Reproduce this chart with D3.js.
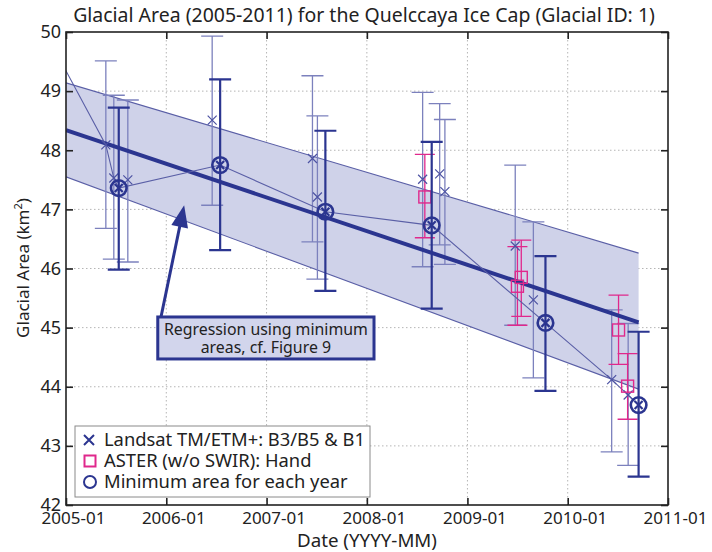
<!DOCTYPE html>
<html><head><meta charset="utf-8">
<script src="https://cdn.jsdelivr.net/npm/d3@7"></script>
<style>
body{margin:0;background:#fff}
svg{display:block}
text{font-family:"Noto Sans","Open Sans",sans-serif;fill:#222}
</style>
</head><body>
<svg id="c" width="712" height="552"></svg>
<script>
// ---------------- data ----------------
const yTicks = [42, 43, 44, 45, 46, 47, 48, 49, 50];
const xTickLabels = ["2005-01", "2006-01", "2007-01", "2008-01", "2009-01", "2010-01", "2011-01"];

// Landsat TM/ETM+ (B3/B5 & B1) scenes that are not the yearly minimum
const landsatDates  = ["2005-05-26","2005-06-24","2005-08-14","2006-06-17","2007-06-17","2007-07-05","2008-07-22","2008-09-22","2008-10-11","2009-06-24","2009-08-29","2010-06-10","2010-08-09"];
const landsatValues = [48.09, 47.53, 47.50, 48.51, 47.86, 47.21, 47.51, 47.60, 47.30, 46.38, 45.47, 44.12, 43.86];
const landsatLow    = [46.68, 46.16, 46.11, 47.07, 46.45, 45.82, 46.03, 46.40, 46.07, 45.04, 44.15, 42.90, 42.67];
const landsatHigh   = [49.51, 48.93, 48.85, 49.93, 49.26, 48.58, 48.98, 48.79, 48.52, 47.75, 46.79, 45.30, 45.07];

// ASTER (w/o SWIR) hand digitised
const asterDates  = ["2008-07-30","2009-07-02","2009-07-16","2010-07-05","2010-08-07"];
const asterValues = [47.21, 45.70, 45.85, 44.96, 44.01];
const asterLow    = [46.52, 45.04, 45.19, 44.38, 43.45];
const asterHigh   = [47.93, 46.37, 46.48, 45.55, 44.56];

// Minimum area for each year (Landsat)
const minDates  = ["2005-07-12","2006-07-16","2007-08-03","2008-08-24","2009-10-12","2010-09-16"];
const minValues = [47.36, 47.75, 46.96, 46.73, 45.08, 43.69];
const minLow    = [45.98, 46.31, 45.62, 45.32, 43.93, 42.48];
const minHigh   = [48.72, 49.20, 48.33, 48.14, 46.21, 44.93];

// thin connecting track
const trackDates  = ["2004-09-12","2005-05-26","2005-06-24","2005-07-12","2006-07-16","2007-08-03","2008-08-24","2009-10-12","2010-06-10","2010-08-09","2010-09-16"];
const trackValues = [50.30, 48.09, 47.53, 47.36, 47.75, 46.96, 46.73, 45.08, 44.12, 43.86, 43.69];

// regression using minimum areas and its band
const regDates   = ["2005-01-01","2010-09-16"];
const regValues  = [48.34, 45.09];
const bandUpper  = [49.14, 46.26];
const bandLower  = [47.55, 43.96];

// annotation anchor (data space)
const noteTip = {date: "2006-03-07", value: 47.07};
const noteBox = {d0: "2005-12-01", d1: "2008-01-27", v0: 45.18, v1: 44.47};
const noteLines = ["Regression using minimum", "areas, cf. Figure 9"];

const legendItems = ["Landsat TM/ETM+: B3/B5 & B1", "ASTER (w/o SWIR): Hand", "Minimum area for each year"];
const titleText = "Glacial Area (2005-2011) for the Quelccaya Ice Cap (Glacial ID: 1)";

// ---------------- drawing ----------------
const parse = d3.utcParse("%Y-%m-%d");
const NAVY = "#2b3590", MID = "#4d53a3", LIGHT = "#7c81bd", MAG = "#e0288c", BAND = "#cfd2e9";
const L = 66, R = 668, T = 32, B = 505;

const x = d3.scaleUtc().domain([parse("2005-01-01"), parse("2011-01-01")]).range([L, R]);
const y = d3.scaleLinear().domain([42, 50]).range([B, T]);

const svg = d3.select("#c");
svg.append("defs").append("clipPath").attr("id","clip")
  .append("rect").attr("x",L).attr("y",T).attr("width",R-L).attr("height",B-T);

function fit(sel, target){
  const w = sel.node().getComputedTextLength();
  const fs = parseFloat(sel.attr("font-size"));
  sel.attr("font-size", (fs*target/w).toFixed(2));
}

const xTickDates = xTickLabels.map(s => parse(s + "-01"));

// grid
const grid = svg.append("g");
grid.selectAll(".gx").data(xTickDates.slice(1,-1)).join("line")
  .attr("x1", d=>x(d)).attr("x2", d=>x(d)).attr("y1",T).attr("y2",B)
  .attr("stroke","#b5b5b5").attr("stroke-dasharray","1.5,2.5");
grid.selectAll(".gy").data(yTicks.slice(1,-1)).join("line")
  .attr("x1",L).attr("x2",R).attr("y1",d=>y(d)).attr("y2",d=>y(d))
  .attr("stroke","#b5b5b5").attr("stroke-dasharray","1.5,2.5");

const plot = svg.append("g").attr("clip-path","url(#clip)");

// band
const bandArea = d3.area().x(d=>x(d.date)).y0(d=>y(d.lo)).y1(d=>y(d.hi));
const bandData = regDates.map((d,i)=>({date:parse(d), lo:bandLower[i], hi:bandUpper[i]}));
plot.append("path").datum(bandData).attr("d", bandArea).attr("fill", BAND);
const ln = d3.line().x(d=>x(d.date)).y(d=>y(d.v));
plot.append("path").datum(bandData.map(d=>({date:d.date,v:d.hi}))).attr("d",ln)
  .attr("fill","none").attr("stroke","#5a5fa6").attr("stroke-width",1.1);
plot.append("path").datum(bandData.map(d=>({date:d.date,v:d.lo}))).attr("d",ln)
  .attr("fill","none").attr("stroke","#5a5fa6").attr("stroke-width",1.1);

// error bars helper
function errorBars(g, dates, lows, highs, color, width, cap){
  const data = dates.map((d,i)=>({x:x(parse(d)), lo:y(lows[i]), hi:y(highs[i])}));
  const e = g.append("g").attr("stroke",color).attr("stroke-width",width).attr("fill","none");
  e.selectAll("path").data(data).join("path")
    .attr("d", d=>`M${d.x},${d.lo}V${d.hi}M${d.x-cap/2},${d.hi}H${d.x+cap/2}M${d.x-cap/2},${d.lo}H${d.x+cap/2}`);
}
function xMarks(g, dates, values, color, size, width){
  const s = size/2;
  g.append("g").attr("stroke",color).attr("stroke-width",width).attr("fill","none")
    .selectAll("path").data(dates.map((d,i)=>({x:x(parse(d)), y:y(values[i])}))).join("path")
    .attr("d", d=>`M${d.x-s},${d.y-s}L${d.x+s},${d.y+s}M${d.x-s},${d.y+s}L${d.x+s},${d.y-s}`);
}

errorBars(plot, landsatDates, landsatLow, landsatHigh, LIGHT, 1.3, 22);
errorBars(plot, asterDates, asterLow, asterHigh, MAG, 1.3, 20);

// regression line
plot.append("path").datum(regDates.map((d,i)=>({date:parse(d), v:regValues[i]}))).attr("d",ln)
  .attr("fill","none").attr("stroke",NAVY).attr("stroke-width",4);

// thin track
plot.append("path").datum(trackDates.map((d,i)=>({date:parse(d), v:trackValues[i]}))).attr("d",ln)
  .attr("fill","none").attr("stroke","#5a5fa6").attr("stroke-width",1.1);

xMarks(plot, landsatDates, landsatValues, MID, 9, 1.2);

// ASTER squares
plot.append("g").selectAll("rect").data(asterDates.map((d,i)=>({x:x(parse(d)), y:y(asterValues[i])}))).join("rect")
  .attr("x",d=>d.x-6).attr("y",d=>d.y-6).attr("width",12).attr("height",12)
  .attr("fill","none").attr("stroke",MAG).attr("stroke-width",1.4);

// minimum
errorBars(plot, minDates, minLow, minHigh, NAVY, 2.2, 22);
plot.append("g").selectAll("circle").data(minDates.map((d,i)=>({x:x(parse(d)), y:y(minValues[i])}))).join("circle")
  .attr("cx",d=>d.x).attr("cy",d=>d.y).attr("r",7.8)
  .attr("fill","none").attr("stroke",NAVY).attr("stroke-width",2.6);
xMarks(plot, minDates, minValues, NAVY, 8, 2.2);

// frame + axes (ticks inward)
svg.append("rect").attr("x",L).attr("y",T).attr("width",R-L).attr("height",B-T)
  .attr("fill","none").attr("stroke","#222").attr("stroke-width",1.6);

const axB = svg.append("g").attr("transform",`translate(0,${B})`)
  .call(d3.axisBottom(x).tickValues(xTickDates).tickFormat((d,i)=>xTickLabels[i]).tickSize(-7).tickPadding(7));
const axT = svg.append("g").attr("transform",`translate(0,${T})`)
  .call(d3.axisTop(x).tickValues(xTickDates).tickFormat("").tickSize(-7));
const axL = svg.append("g").attr("transform",`translate(${L},0)`)
  .call(d3.axisLeft(y).tickValues(yTicks).tickFormat(d3.format("d")).tickSize(-7).tickPadding(5));
const axRt = svg.append("g").attr("transform",`translate(${R},0)`)
  .call(d3.axisRight(y).tickValues(yTicks).tickFormat("").tickSize(-7));
[axB,axT,axL,axRt].forEach(a=>{
  a.select(".domain").remove();
  a.selectAll(".tick line").attr("stroke","#222").attr("stroke-width",1.6);
  a.selectAll("text").attr("font-family",'"Noto Sans","Open Sans",sans-serif').attr("fill","#222");
});
axB.selectAll("text").attr("font-size",17).attr("dx",7);
axL.selectAll("text").attr("font-size",18);

// title
const title = svg.append("text").attr("x",364).attr("y",22).attr("text-anchor","middle")
  .attr("font-size",18).text(titleText);
fit(title, 582);

// axis labels
const xl = svg.append("text").attr("x",367).attr("y",547).attr("text-anchor","middle")
  .attr("font-size",17).text("Date (YYYY-MM)");
fit(xl, 140);
const yl = svg.append("text").attr("transform","translate(29,268) rotate(-90)").attr("text-anchor","middle")
  .attr("font-size",17);
yl.append("tspan").text("Glacial Area (km");
yl.append("tspan").attr("font-size",11).attr("dy",-7).text("2");
yl.append("tspan").attr("dy",7).text(")");

// legend
const lg = svg.append("g");
lg.append("rect").attr("x",75).attr("y",426).attr("width",295).attr("height",71)
  .attr("fill","#fff").attr("stroke","#8a8a8a").attr("stroke-width",1);
const rowY = [440, 461, 482];
lg.append("path").attr("d",`M84,${rowY[0]-5}L94,${rowY[0]+5}M84,${rowY[0]+5}L94,${rowY[0]-5}`)
  .attr("stroke",NAVY).attr("stroke-width",2).attr("fill","none");
lg.append("rect").attr("x",84.5).attr("y",rowY[1]-5.5).attr("width",11).attr("height",11)
  .attr("fill","none").attr("stroke",MAG).attr("stroke-width",2);
lg.append("circle").attr("cx",90).attr("cy",rowY[2]).attr("r",6)
  .attr("fill","none").attr("stroke",NAVY).attr("stroke-width",2);
const lt = lg.append("text").attr("font-size",18);
lt.selectAll("tspan").data(legendItems).join("tspan")
  .attr("x",104).attr("y",(d,i)=>rowY[i]+6).text(d=>d);
{
  const w = lt.select("tspan").node().getComputedTextLength();
  lt.attr("font-size", (18*261/w).toFixed(2));
}

// annotation
const bx0 = x(parse(noteBox.d0)), bx1 = x(parse(noteBox.d1)), by0 = y(noteBox.v0), by1 = y(noteBox.v1);
const tipX = x(parse(noteTip.date)), tipY = y(noteTip.value);
const tailX = bx0 + 3, tailY = by0 + 1;
const dx = tipX - tailX, dy = tipY - tailY, len = Math.hypot(dx,dy), ux = dx/len, uy = dy/len;
const hl = 22, hw = 8.5;
const baseX = tipX - ux*hl, baseY = tipY - uy*hl;
svg.append("line").attr("x1",tailX).attr("y1",tailY).attr("x2",baseX+ux*2).attr("y2",baseY+uy*2)
  .attr("stroke",NAVY).attr("stroke-width",3);
svg.append("path").attr("d",`M${tipX},${tipY}L${baseX-uy*hw},${baseY+ux*hw}L${baseX+uy*hw},${baseY-ux*hw}Z`)
  .attr("fill",NAVY);
svg.append("rect").attr("x",bx0).attr("y",by0).attr("width",bx1-bx0).attr("height",by1-by0)
  .attr("fill","#d2d5ec").attr("stroke",NAVY).attr("stroke-width",3);
const nt = svg.append("text").attr("text-anchor","middle").attr("font-size",16);
nt.selectAll("tspan").data(noteLines).join("tspan")
  .attr("x",(bx0+bx1)/2).attr("y",(d,i)=>by0+18+i*17.7).text(d=>d);
{
  const w = nt.select("tspan").node().getComputedTextLength();
  nt.attr("font-size", (16*204/w).toFixed(2));
}
</script>
</body></html>
